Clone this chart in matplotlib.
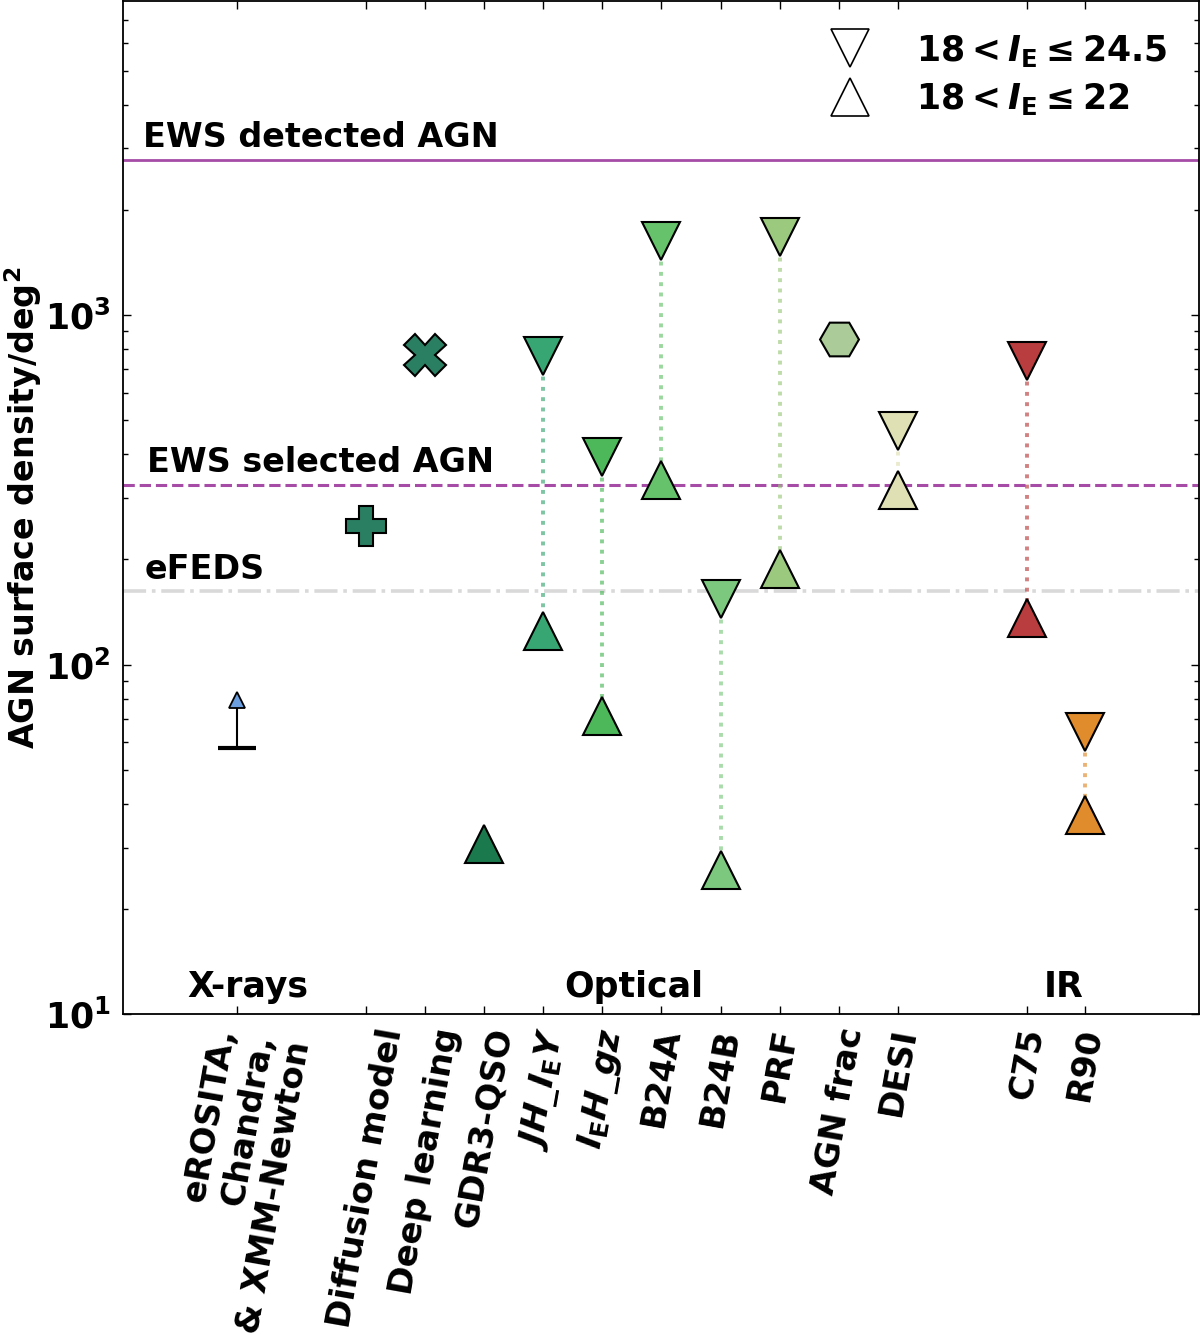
import matplotlib
matplotlib.use("Agg")
import matplotlib.pyplot as plt
from matplotlib.ticker import LogLocator, NullFormatter

plt.rcParams['font.family'] = ['DejaVu Sans']
plt.rcParams['font.weight'] = 'bold'
plt.rcParams['mathtext.fontset'] = 'custom'
plt.rcParams['mathtext.rm'] = 'DejaVu Sans:bold'
plt.rcParams['mathtext.it'] = 'DejaVu Sans:bold:italic'
plt.rcParams['mathtext.bf'] = 'DejaVu Sans:bold'
plt.rcParams['mathtext.sf'] = 'DejaVu Sans:bold'

# ---------------- data ----------------
methods = ['eROSITA,\nChandra,\n& XMM-Newton', 'Diffusion model', 'Deep learning',
           'GDR3-QSO', r'$JH\_I_{\rm E}Y$', r'$I_{\rm E}H\_gz$', 'B24A', 'B24B',
           'PRF', 'AGN frac', 'DESI', 'C75', 'R90']
xpos = [-0.18, 2, 3, 4, 5, 6, 7, 8, 9, 10, 11, 13.18, 14.16]

# paired selections: faint (18<IE<=24.5) and bright (18<IE<=22)
pair_names = ['JH_IEY', 'IEH_gz', 'B24A', 'B24B', 'PRF', 'DESI', 'C75', 'R90']
pair_x = [5, 6, 7, 8, 9, 11, 13.18, 14.16]
faint_density = [763, 392, 1632, 154, 1671, 466, 738, 64]
bright_density = [125, 71.2, 338, 25.9, 188, 316, 136, 37.1]
pair_colors = ['#37a672', '#4db85a', '#66c36b', '#7cc87f', '#9bc97d',
               '#dfe0b4', '#b93d3e', '#e08b2c']

# single-valued methods
gdr3_x, gdr3_density, gdr3_color = 4, 30.7, '#1b7a4d'
diff_x, diff_density, diff_color = 2, 250, '#2a7f62'
deep_x, deep_density, deep_color = 3, 767, '#2a7f62'
frac_x, frac_density, frac_color = 10, 853, '#abcb98'

# X-ray lower limit
xray_x, xray_lower, xray_arrow_top, xray_color = -0.18, 57.6, 79, '#6b9fdf'

# reference densities
ews_detected = 2787
ews_selected = 327
efeds = 162

groups = ['X-rays', 'Optical', 'IR']
group_x = [0.0, 6.53, 13.81]

# ---------------- plot ----------------
fig = plt.figure(figsize=(12, 13.39), dpi=100)
ax = fig.add_axes([0.1025, 0.2425, 0.8965, 0.7565])
ax.set_yscale('log')

ms = 28
mew = 1.5

# horizontal reference lines
purple = '#a64ca6'
ax.axhline(ews_detected, color=purple, lw=2.0, ls='-', zorder=1)
ax.axhline(ews_selected, color=purple, lw=2.2, ls='--', zorder=1)
ax.axhline(efeds, color='#d9d9d9', lw=2.6, ls='-.', zorder=1)

xl = -1.77
ax.annotate('EWS detected AGN', (xl, ews_detected), xytext=(0, 16), textcoords='offset points',
            fontsize=24, fontweight='bold', ha='left', va='center')
ax.annotate('EWS selected AGN', (xl + 0.07, ews_selected), xytext=(0, 16), textcoords='offset points',
            fontsize=24, fontweight='bold', ha='left', va='center')
ax.annotate('eFEDS', (xl + 0.03, efeds), xytext=(0, 16), textcoords='offset points',
            fontsize=24, fontweight='bold', ha='left', va='center')

# paired selections
for x, f, b, c in zip(pair_x, faint_density, bright_density, pair_colors):
    ax.plot([x, x], [f, b], ls=':', lw=2.8, color=c, alpha=0.65, zorder=2)
    ax.plot(x, f, marker='v', ms=ms, mfc=c, mec='black', mew=mew, ls='none', zorder=3)
    ax.plot(x, b, marker='^', ms=ms, mfc=c, mec='black', mew=mew, ls='none', zorder=3)

ax.plot(gdr3_x, gdr3_density, marker='^', ms=ms, mfc=gdr3_color, mec='black', mew=mew, ls='none', zorder=3)
ax.plot(diff_x, diff_density, marker='P', ms=ms + 1, mfc=diff_color, mec='black', mew=mew, ls='none', zorder=3)
ax.plot(deep_x, deep_density, marker='X', ms=ms + 2, mfc=deep_color, mec='black', mew=mew, ls='none', zorder=3)
ax.plot(frac_x, frac_density, marker='H', ms=ms, mfc=frac_color, mec='black', mew=mew, ls='none', zorder=3)

# X-ray lower limit
ax.plot([xray_x, xray_x], [xray_lower, xray_arrow_top], color='black', lw=1.5, zorder=3)
ax.plot(xray_x, xray_lower, marker='_', ms=28, mew=3, color='black', ls='none', zorder=3)
ax.plot(xray_x, xray_arrow_top, marker='^', ms=11, mfc=xray_color, mec='black', mew=1.3, ls='none', zorder=4)

# group labels
for g, gx in zip(groups, group_x):
    ax.text(gx, 12.0, g, fontsize=25, fontweight='bold', ha='center', va='center')

# legend
h1, = ax.plot([], [], marker='v', ms=ms, mfc='white', mec='black', mew=1.2, ls='none',
              label=r'$18 < I_{\rm E} \leq 24.5$')
h2, = ax.plot([], [], marker='^', ms=ms, mfc='white', mec='black', mew=1.2, ls='none',
              label=r'$18 < I_{\rm E} \leq 22$')
ax.legend(handles=[h1, h2], loc='upper right', frameon=False, fontsize=25,
          handlelength=1.2, handletextpad=1.3, labelspacing=0.35, borderaxespad=0.5)

# axes
ax.set_xlim(-2.11, 16.09)
ax.set_ylim(10, 7900)
ax.set_xticks(xpos)
ax.set_xticklabels(methods, rotation=80, fontsize=24.5, fontweight='bold',
                   ha='center', multialignment='right')
ax.yaxis.set_major_locator(LogLocator(base=10, numticks=10))
ax.yaxis.set_minor_locator(LogLocator(base=10, subs=range(2, 10), numticks=20))
ax.yaxis.set_minor_formatter(NullFormatter())
ax.tick_params(axis='y', which='major', labelsize=25, direction='in', length=6, width=1,
               left=True, right=True, pad=9)
ax.tick_params(axis='y', which='minor', direction='in', length=3.5, width=1,
               left=True, right=True)
ax.tick_params(axis='x', which='major', direction='in', length=6, width=1,
               top=True, bottom=True, pad=8)
for s in ax.spines.values():
    s.set_linewidth(1.3)

ax.set_ylabel(r'AGN surface density/deg$^2$', fontsize=24, fontweight='bold')
ax.yaxis.set_label_coords(-0.073, 0.5)

fig.savefig('out.png', dpi=100)
